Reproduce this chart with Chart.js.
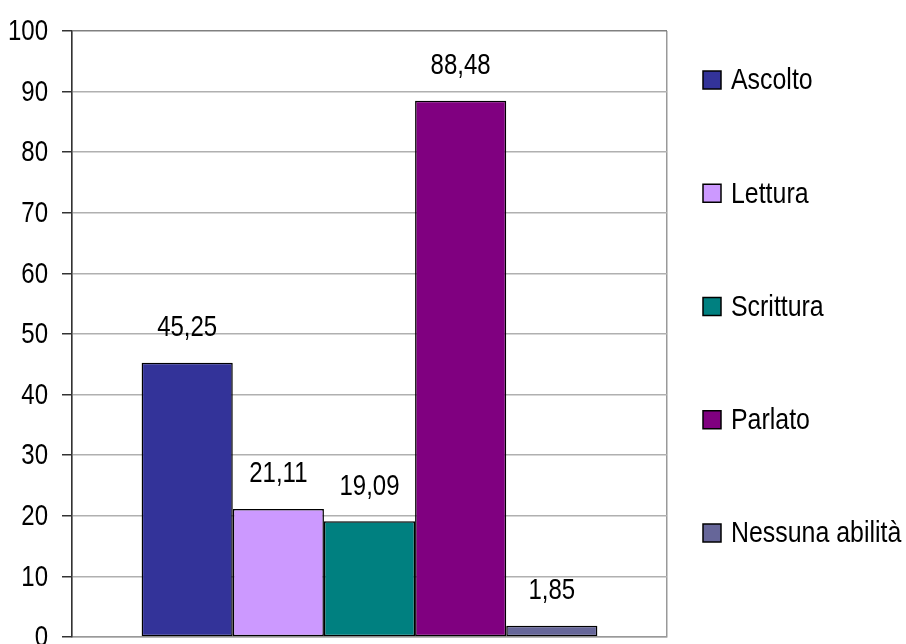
<!DOCTYPE html>
<html>
<head>
<meta charset="utf-8">
<script src="https://cdn.jsdelivr.net/npm/chart.js@4/dist/chart.umd.min.js"></script>
<style>
  html, body { margin: 0; padding: 0; background: #fff; }
  #wrap { width: 906px; height: 644px; }
</style>
</head>
<body>
<div id="wrap"><canvas id="myBarChart"></canvas></div>
<script>
// chart data
var categories = [''];
var seriesNames = ['Ascolto', 'Lettura', 'Scrittura', 'Parlato', 'Nessuna abilità'];
var seriesValues = [45.25, 21.11, 19.09, 88.48, 1.85];
var seriesColors = ['#333399', '#CC99FF', '#008080', '#800080', '#666699'];
var yTicks = [0, 10, 20, 30, 40, 50, 60, 70, 80, 90, 100];

var FONT = "'Liberation Sans', Arial, sans-serif";

function fmt(v) {
    return v.toFixed(2).replace('.', ',');
}

// draw text squeezed horizontally (looks like Arial Narrow)
function narrowText(ctx, text, x, y, align, squeeze) {
    ctx.save();
    ctx.translate(x, y);
    ctx.scale(squeeze, 1);
    ctx.textAlign = align;
    ctx.fillText(text, 0, 0);
    ctx.restore();
}

var labelsPlugin = {
    id: 'labelsPlugin',
    afterDatasetsDraw: function (chart) {
        var ctx = chart.ctx;
        ctx.save();
        ctx.font = '30px ' + FONT;
        ctx.fillStyle = '#000';
        ctx.textBaseline = 'middle';
        // value labels above bars
        chart.data.datasets.forEach(function (ds, i) {
            var bar = chart.getDatasetMeta(i).data[0];
            narrowText(ctx, fmt(ds.data[0]), bar.x, bar.y - 35, 'center', 0.8);
        });
        // y tick labels
        var yScale = chart.scales.y;
        yTicks.forEach(function (v) {
            narrowText(ctx, String(v), yScale.right - 24, yScale.getPixelForValue(v) + 1, 'right', 0.8);
        });
        ctx.restore();
    },
    afterDraw: function (chart) {
        var ctx = chart.ctx;
        var x = chart.chartArea.right + 36;
        ctx.save();
        ctx.font = '30px ' + FONT;
        ctx.textBaseline = 'middle';
        chart.data.datasets.forEach(function (ds, i) {
            var y = 80 + i * 113.25;
            ctx.fillStyle = ds.backgroundColor;
            ctx.fillRect(x, y - 9, 18, 18);
            ctx.lineWidth = 1.5;
            ctx.strokeStyle = '#000';
            ctx.strokeRect(x, y - 9, 18, 18);
            ctx.fillStyle = '#000';
            narrowText(ctx, ds.label, x + 28, y + 1, 'left', 0.83);
        });
        ctx.restore();
    }
};

var datasets = seriesNames.map(function (name, i) {
    return {
        label: name,
        data: [seriesValues[i]],
        backgroundColor: seriesColors[i],
        borderColor: '#000',
        borderWidth: 1.5,
        borderSkipped: false,
        barPercentage: 1,
        categoryPercentage: 0.766
    };
});

var ctx = document.getElementById('myBarChart').getContext('2d');
var myBarChart = new Chart(ctx, {
    type: 'bar',
    data: { labels: categories, datasets: datasets },
    plugins: [labelsPlugin],
    options: {
        responsive: true,
        maintainAspectRatio: false,
        animation: false,
        layout: { padding: { top: 31, right: 239, bottom: 7, left: 0 } },
        plugins: {
            legend: { display: false },
            tooltip: { enabled: false }
        },
        scales: {
            x: {
                offset: true,
                afterFit: function (axis) { axis.height = 0; },
                ticks: { display: false },
                grid: { offset: true, color: '#999', drawTicks: false, lineWidth: 1.5 },
                border: { color: '#999', width: 1.5 }
            },
            y: {
                min: 0,
                max: 100,
                afterBuildTicks: function (axis) {
                    axis.ticks = yTicks.map(function (v) { return { value: v }; });
                },
                afterFit: function (axis) { axis.width = 72; },
                ticks: { display: false },
                grid: {
                    color: function (c) { return c.tick && c.tick.value === 100 ? '#808080' : '#b0b0b0'; },
                    lineWidth: 1.5,
                    tickLength: 10,
                    tickColor: '#333'
                },
                border: { color: '#333', width: 1.5 }
            }
        }
    }
});
</script>
</body>
</html>
